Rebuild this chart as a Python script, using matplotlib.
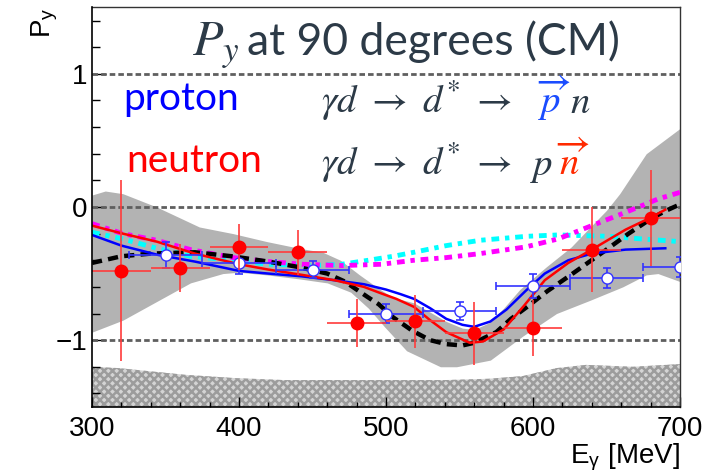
import matplotlib
matplotlib.use("Agg")
import matplotlib.pyplot as plt
from matplotlib.ticker import MultipleLocator
import numpy as np

plt.rcParams['font.family'] = ['Liberation Sans', 'DejaVu Sans']
plt.rcParams['mathtext.fontset'] = 'stix'
plt.rcParams['hatch.linewidth'] = 1.8

# neutron data (filled red)
E_n = [320, 360, 400, 440, 480, 520, 560, 600, 640, 680]
P_n = [-0.48, -0.46, -0.30, -0.34, -0.87, -0.86, -0.95, -0.91, -0.32, -0.08]
dP_n = [0.68, 0.18, 0.17, 0.17, 0.18, 0.20, 0.24, 0.21, 0.32, 0.36]
dE_n = [20] * 10

# proton data (open blue)
E_p = [350, 400, 450, 500, 550, 600, 650, 700]
P_p = [-0.36, -0.42, -0.47, -0.80, -0.78, -0.59, -0.53, -0.45]
dP_p = [0.10, 0.08, 0.065, 0.07, 0.07, 0.09, 0.075, 0.075]
dE_p = [25] * 8

# model curves
black_E = [300, 320, 340, 370, 395, 420, 440, 460, 472, 480, 488, 495, 505, 518, 530, 541, 552, 560, 575, 585, 596, 610, 627, 650, 665, 680, 690, 698]
black_P = [-0.42, -0.37, -0.35, -0.34, -0.37, -0.41, -0.45, -0.50, -0.56, -0.62, -0.68, -0.73, -0.83, -0.93, -1.00, -1.03, -1.04, -1.02, -0.94, -0.84, -0.75, -0.63, -0.50, -0.32, -0.20, -0.09, -0.03, 0.01]

blue_E = [300, 320, 345, 370, 400, 420, 442, 465, 485, 500, 510, 519, 530, 541, 552, 560, 571, 582, 595, 608, 624, 640, 663, 690]
blue_P = [-0.21, -0.29, -0.36, -0.41, -0.48, -0.50, -0.52, -0.55, -0.58, -0.62, -0.655, -0.69, -0.76, -0.84, -0.885, -0.90, -0.86, -0.77, -0.63, -0.50, -0.40, -0.35, -0.32, -0.31]

red_E = [300, 321, 344, 370, 400, 420, 443, 465, 485, 497, 507, 519, 530, 541, 557, 566, 580, 594, 608, 624, 640, 663, 680, 690]
red_P = [-0.14, -0.20, -0.26, -0.35, -0.43, -0.47, -0.51, -0.55, -0.60, -0.65, -0.69, -0.75, -0.85, -0.94, -1.02, -1.01, -0.92, -0.74, -0.55, -0.42, -0.32, -0.17, -0.08, -0.02]

cyan_E = [300, 321, 344, 367, 396, 420, 448, 470, 488, 505, 519, 541, 564, 596, 617, 651, 674, 700]
cyan_P = [-0.19, -0.24, -0.31, -0.37, -0.40, -0.43, -0.44, -0.43, -0.40, -0.37, -0.34, -0.29, -0.25, -0.22, -0.21, -0.22, -0.24, -0.26]

mag_E = [300, 321, 344, 367, 396, 420, 443, 470, 497, 519, 541, 564, 595, 617, 640, 663, 685, 700]
mag_P = [-0.125, -0.20, -0.25, -0.32, -0.38, -0.41, -0.43, -0.44, -0.43, -0.40, -0.38, -0.35, -0.30, -0.24, -0.14, -0.04, 0.06, 0.11]

# model uncertainty band
band_up_E = [300, 309, 321, 344, 373, 396, 419, 441, 457, 469, 482, 496, 505, 519, 530, 541, 552, 560, 570, 580, 591, 609, 626, 639, 650, 659, 677, 700]
band_up_P = [0.09, 0.12, 0.10, 0.00, -0.15, -0.20, -0.26, -0.31, -0.34, -0.40, -0.51, -0.62, -0.68, -0.72, -0.79, -0.86, -0.91, -0.92, -0.87, -0.76, -0.62, -0.45, -0.30, -0.15, -0.025, 0.10, 0.40, 0.59]
band_lo_E = [300, 321, 344, 367, 389, 400, 419, 441, 460, 476, 488, 499, 514, 537, 548, 571, 593, 616, 639, 661, 677, 685, 700]
band_lo_P = [-0.94, -0.85, -0.71, -0.57, -0.50, -0.49, -0.51, -0.54, -0.57, -0.64, -0.76, -0.90, -1.08, -1.20, -1.20, -1.15, -0.97, -0.80, -0.70, -0.60, -0.51, -0.50, -0.56]

# systematic band at bottom
sys_E = [300, 318, 363, 397, 431, 499, 540, 570, 593, 616, 636, 668, 700]
sys_P = [-1.20, -1.21, -1.26, -1.285, -1.30, -1.30, -1.30, -1.29, -1.27, -1.21, -1.186, -1.20, -1.18]

W, H = 713, 473
fig = plt.figure(figsize=(W / 100, H / 100), dpi=100)
ax = fig.add_axes([92 / W, 1 - 406.7 / H, 588 / W, 399.4 / H])

ax.set_xlim(300, 700)
ax.set_ylim(-1.5, 1.5)

# bands
bx = np.linspace(300, 700, 401)
ax.fill_between(bx, np.interp(bx, band_lo_E, band_lo_P), np.interp(bx, band_up_E, band_up_P),
                color='#b3b3b3', lw=0, zorder=1)
ax.fill_between(sys_E, -1.5, sys_P, facecolor='#d4d4d4', edgecolor='#9c9c9c',
                hatch='xxxx', lw=0, zorder=1)

for yv in [-1, 0, 1]:
    ax.axhline(yv, color='#5f5f5f', lw=2.0, ls=(0, (2, 1.1)), zorder=2)

ax.plot(cyan_E, cyan_P, color='cyan', lw=3.5, ls=(0, (1.6, 1.2, 0.9, 1.2)), zorder=3)
ax.plot(mag_E, mag_P, color='magenta', lw=3.5, ls=(0, (1.6, 1.2, 0.9, 1.2)), zorder=3)
ax.plot(black_E, black_P, color='black', lw=3.2, ls=(0, (2.3, 1.4)), zorder=4)
ax.plot(blue_E, blue_P, color='#0000ff', lw=1.8, zorder=5)
ax.plot(red_E, red_P, color='#ff0000', lw=1.8, zorder=5)

ax.errorbar(E_p, P_p, yerr=dP_p, xerr=dE_p, fmt='o', mfc='white', mec='#3333ff', ms=8,
            ecolor='#3333ff', elinewidth=1.2, capsize=3, capthick=1.2, zorder=6)
ax.errorbar(E_n, P_n, yerr=dP_n, xerr=dE_n, fmt='o', color='#ff0000', ms=9,
            ecolor='#ff3b3b', elinewidth=1.2, capsize=0, zorder=7)

# axes styling
ax.set_xticks([300, 400, 500, 600, 700])
ax.set_yticks([-1, 0, 1])
ax.set_yticklabels(['\u22121', '0', '1'])
ax.xaxis.set_minor_locator(MultipleLocator(20))
ax.yaxis.set_minor_locator(MultipleLocator(0.2))
ax.tick_params(axis='x', which='major', direction='in', length=7, width=1, labelsize=20, pad=7)
ax.tick_params(axis='x', which='minor', direction='in', length=3.5, width=1)
ax.tick_params(axis='y', which='major', direction='in', length=10, width=1, labelsize=20, pad=3)
ax.tick_params(axis='y', which='minor', direction='in', length=6, width=1)
for s in ['top', 'right']:
    ax.spines[s].set_color('#333333')
    ax.spines[s].set_linewidth(1)
for s in ['left', 'bottom']:
    ax.spines[s].set_linewidth(1.2)
    ax.spines[s].set_zorder(8)

ax.text(-0.08, 1.0, 'P$_\\mathregular{y}$', transform=ax.transAxes, rotation=90,
        ha='center', va='top', fontsize=20)

dark = '#2c3a47'
def px(x, y):
    return x / W, 1 - y / H

fig.text(*px(680, 463), 'E$_\\mathregular{\u03b3}$ [MeV]', fontsize=20, ha='right', va='baseline')

fig.text(*px(192, 55), r'$P_y$', fontsize=36, color=dark, ha='left', va='baseline')
fig.text(*px(247, 55), 'at 90 degrees (CM)', fontsize=32, color=dark, family='Lato',
         ha='left', va='baseline')
fig.text(*px(123, 110), 'proton', fontsize=28, color='#0000ff', family='Lato',
         ha='left', va='baseline')
fig.text(*px(126, 171.7), 'neutron', fontsize=28, color='#ff0000', family='Lato',
         ha='left', va='baseline')

eq = r'$\gamma d\ \rightarrow\ d^{*}\ \rightarrow$'
fig.text(*px(321, 113), eq, fontsize=28, color=dark, ha='left', va='baseline')
fig.text(*px(537, 113), r'$\overrightarrow{p}$', fontsize=28, color='#1a4cff', ha='left', va='baseline')
fig.text(*px(570, 113), r'$n$', fontsize=28, color=dark, ha='left', va='baseline')
fig.text(*px(321, 175), eq, fontsize=28, color=dark, ha='left', va='baseline')
fig.text(*px(530, 175), r'$p$', fontsize=28, color=dark, ha='left', va='baseline')
fig.text(*px(556, 175), r'$\overrightarrow{n}$', fontsize=28, color='#ff2a00', ha='left', va='baseline')

fig.savefig('out.png', dpi=100)
